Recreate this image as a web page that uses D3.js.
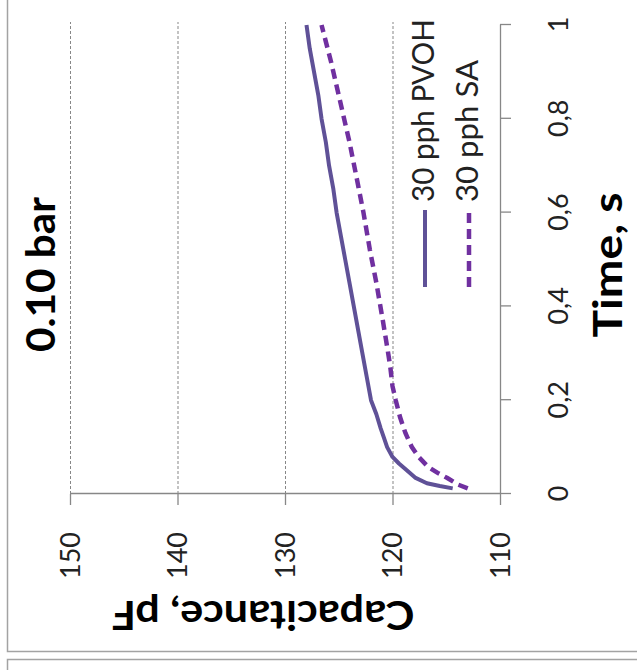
<!DOCTYPE html>
<html><head><meta charset="utf-8">
<script src="https://cdn.jsdelivr.net/npm/d3@7"></script>
<style>body{margin:0;background:#fff}svg{display:block}</style>
</head><body>
<svg id="c" width="637" height="670"></svg>
<script>
const timeTicks = [0, 0.2, 0.4, 0.6, 0.8, 1];
const capTicks = [110, 120, 130, 140, 150];
const seriesNames = ["30 pph PVOH", "30 pph SA"];
const chartTitle = "0.10 bar";
const xTitle = "Time, s";
const yTitle = "Capacitance, pF";

const pvohTime = [0.012,0.017,0.023,0.035,0.051,0.065,0.079,0.1,0.12,0.14,0.17,0.2,0.25,0.3,0.35,0.4,0.45,0.5,0.55,0.6,0.65,0.7,0.75,0.8,0.85,0.9,0.95,1.0];
const pvohCap  = [114.4,115.6,116.8,117.9,118.7,119.4,120.0,120.5,120.8,121.1,121.5,122.0,122.4,122.8,123.2,123.6,124.0,124.4,124.8,125.2,125.5,125.9,126.2,126.6,126.9,127.3,127.7,128.0];
const saTime = [0.012,0.02,0.034,0.045,0.058,0.08,0.1,0.13,0.164,0.2,0.23,0.27,0.3,0.37,0.45,0.52,0.6,0.67,0.75,0.84,0.92,1.0];
const saCap  = [113.0,113.9,114.9,115.8,116.7,117.6,118.2,118.8,119.3,119.7,120.0,120.2,120.4,120.9,121.5,122.1,122.7,123.3,124.0,124.9,125.7,126.6];

const colSolid = "#5f5197", colDash = "#7030a0", axisCol = "#878787";
const font = "Lato, 'Open Sans', sans-serif";

const svg = d3.select("#c");
// panel frames (page coords)
svg.append("rect").attr("x", 7.5).attr("y", -5).attr("width", 640).attr("height", 656.5)
  .attr("fill", "none").attr("stroke", "#a3a3a3").attr("stroke-width", 1.5);
svg.append("rect").attr("x", 7.5).attr("y", 659.5).attr("width", 640).attr("height", 40)
  .attr("fill", "none").attr("stroke", "#a3a3a3").attr("stroke-width", 1.5);

// chart drawn in its own frame, turned a quarter turn counter-clockwise
const g = svg.append("g").attr("transform", "translate(0,670) rotate(-90)");
const x = d3.scaleLinear().domain([0, 1]).range([176, 645]);
const y = d3.scaleLinear().domain([110, 150]).range([500, 70]);

// gridlines
g.append("g").selectAll("line").data(capTicks.filter(d => d > 110)).join("line")
  .attr("x1", x(0)).attr("x2", x(1) + 3)
  .attr("y1", d => y(d) + 0.5).attr("y2", d => y(d) + 0.5)
  .attr("stroke", axisCol).attr("stroke-width", 1).attr("stroke-dasharray", "3,2");

// axes
const xAxis = d3.axisBottom(x).tickValues(timeTicks)
  .tickFormat(d => String(d).replace(".", ",")).tickSize(11).tickSizeOuter(0);
const gx = g.append("g").attr("transform", `translate(0,${y(110)})`).call(xAxis);
gx.selectAll("text").attr("y", 59).attr("dy", "0.35em")
  .style("font-family", font).style("font-size", "27px").attr("fill", "#222");

const yAxis = d3.axisLeft(y).tickValues(capTicks).tickSize(11).tickSizeOuter(0);
const gy = g.append("g").attr("transform", `translate(${x(0)},0)`).call(yAxis);
gy.selectAll("text").attr("x", -38).attr("dy", "0.35em")
  .style("font-family", font).style("font-size", "27px").attr("fill", "#222");

[gx, gy].forEach(a => {
  a.select(".domain").attr("stroke", axisCol).attr("stroke-width", 1.3);
  a.selectAll(".tick line").attr("stroke", axisCol).attr("stroke-width", 1.3);
});

// series
const line = d3.line().x(d => x(d[0])).y(d => y(d[1]));
const pvoh = pvohTime.map((t, i) => [t, pvohCap[i]]);
const sa = saTime.map((t, i) => [t, saCap[i]]);
g.append("path").datum(pvoh).attr("d", line).attr("fill", "none")
  .attr("stroke", colSolid).attr("stroke-width", 4).attr("stroke-linejoin", "round");
g.append("path").datum(sa).attr("d", line).attr("fill", "none")
  .attr("stroke", colDash).attr("stroke-width", 4.5).attr("stroke-dasharray", "10,6");

// legend
const leg = [
  {name: seriesNames[0], col: colSolid, dash: null, w: 4, ly: 425, ty: 434, len: 183},
  {name: seriesNames[1], col: colDash, dash: "10,6", w: 4.5, ly: 469, ty: 478, len: 142}
];
leg.forEach(l => {
  g.append("line").attr("x1", 383).attr("x2", 460).attr("y1", l.ly).attr("y2", l.ly)
    .attr("stroke", l.col).attr("stroke-width", l.w).attr("stroke-dasharray", l.dash);
  g.append("text").attr("x", 468).attr("y", l.ty).text(l.name)
    .attr("textLength", l.len).attr("lengthAdjust", "spacingAndGlyphs")
    .style("font-family", font).style("font-size", "30px").attr("fill", "#222");
});

// titles
g.append("text").attr("x", 318).attr("y", 55).text(chartTitle)
  .attr("textLength", 155).attr("lengthAdjust", "spacingAndGlyphs")
  .style("font-family", font).style("font-weight", "bold").style("font-size", "40px");
g.append("text").attr("x", 405).attr("y", 622).attr("text-anchor", "middle").text(xTitle)
  .attr("textLength", 145).attr("lengthAdjust", "spacingAndGlyphs")
  .style("font-family", font).style("font-weight", "bold").style("font-size", "40px");
g.append("text").attr("transform", "translate(69,263) rotate(-90)").attr("text-anchor", "middle").text(yTitle)
  .attr("textLength", 303).attr("lengthAdjust", "spacingAndGlyphs")
  .style("font-family", font).style("font-weight", "bold").style("font-size", "40px");
</script>
</body></html>
